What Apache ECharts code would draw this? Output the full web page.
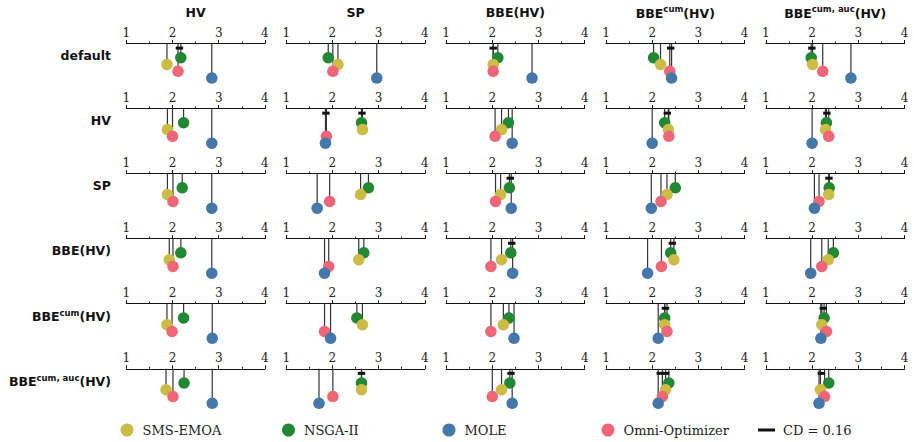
<!DOCTYPE html>
<html>
<head>
<meta charset="utf-8">
<script src="https://cdn.jsdelivr.net/npm/echarts@6/dist/echarts.min.js"></script>
<style>
  html, body { margin: 0; padding: 0; background: #ffffff; }
  #chart { width: 914px; height: 442px; }
</style>
</head>
<body>
<div id="chart"></div>
<script>
// Algorithms compared in every panel (index order used by all rank tables)
const algorithms = ['SMS-EMOA', 'NSGA-II', 'MOLE', 'Omni-Optimizer'];
const colours = ['#CCBB44', '#228833', '#4477AA', '#EE6677'];

// Column = indicator used for evaluation, row = indicator used for tuning
const columnTitles = ['HV', 'SP', 'BBE(HV)', 'BBE^{cum}(HV)', 'BBE^{cum, auc}(HV)'];
const rowTitles = ['default', 'HV', 'SP', 'BBE(HV)', 'BBE^{cum}(HV)', 'BBE^{cum, auc}(HV)'];

// Rank axis
const rankMin = 1;
const rankMax = 4;
const criticalDifference = 0.16;

// Average ranks, [row][column]
const smsEmoa = [
  [1.88, 2.12, 2.02, 2.18, 2.01],
  [1.89, 2.65, 2.20, 2.35, 2.29],
  [1.89, 2.61, 2.18, 2.32, 2.36],
  [1.93, 2.57, 2.20, 2.47, 2.35],
  [1.88, 2.65, 2.24, 2.27, 2.21],
  [1.86, 2.63, 2.20, 2.29, 2.18]
];
const nsga2 = [
  [2.18, 1.91, 2.12, 2.03, 1.98],
  [2.24, 2.63, 2.35, 2.27, 2.31],
  [2.21, 2.78, 2.37, 2.50, 2.37],
  [2.18, 2.68, 2.40, 2.40, 2.46],
  [2.24, 2.53, 2.36, 2.27, 2.26],
  [2.25, 2.63, 2.38, 2.36, 2.36]
];
const mole = [
  [2.85, 2.96, 2.86, 2.42, 2.84],
  [2.85, 1.85, 2.43, 2.00, 2.00],
  [2.85, 1.67, 2.41, 1.98, 2.05],
  [2.85, 1.83, 2.44, 1.90, 1.97],
  [2.86, 1.96, 2.47, 2.13, 2.19],
  [2.86, 1.71, 2.43, 2.13, 2.15]
];
const omniOptimizer = [
  [2.12, 2.01, 2.02, 2.38, 2.23],
  [2.00, 1.87, 2.06, 2.36, 2.36],
  [2.01, 1.94, 2.07, 2.19, 2.15],
  [2.01, 1.92, 1.97, 2.20, 2.21],
  [1.99, 1.83, 1.97, 2.32, 2.31],
  [2.01, 2.01, 2.00, 2.22, 2.27]
];

// Groups of algorithms without significant difference (indices into algorithms), [row][column]
const cdGroups = [
  [[[1, 3]], [], [[0, 3]], [[2, 3]], [[0, 1]]],
  [[], [[2, 3], [0, 1]], [], [[0, 1, 3]], [[0, 1, 3]]],
  [[], [], [[1, 2]], [], [[0, 1]]],
  [[], [], [[1, 2]], [[0, 1]], []],
  [[], [], [], [[0, 1, 3]], [[0, 1, 2, 3]]],
  [[], [[0, 1]], [[1, 2]], [[2, 3], [0, 1, 3]], [[0, 2, 3]]]
];

const ranks = [smsEmoa, nsga2, mole, omniOptimizer];

// ---- layout ----
const PANEL_LEFT = 126.3;
const PANEL_STEP_X = 159.9;
const PANEL_WIDTH = 138.6;
const AXIS_TOP = 43.5;
const PANEL_STEP_Y = 65.05;
const PANEL_HEIGHT = 40;                 // y axis runs 0..40 px below the rank axis
const DOT_OFFSET = [21.0, 14.2, 34.6, 27.8]; // drop depth per algorithm
const DRAW_ORDER = [1, 0, 3, 2];
const CD_BAR_Y = 4.6;

function richLabel(s) {
  // 'BBE^{cum}(HV)' -> rich text with a superscript token
  const m = s.match(/^(.*)\^\{(.*)\}(.*)$/);
  if (!m) return '{b|' + s + '}';
  return '{b|' + m[1] + '}{s|' + m[2] + '}{b|' + m[3] + '}';
}
const richStyles = {
  b: { fontFamily: 'DejaVu Sans', fontWeight: 'bold', fontSize: 12.5, fill: '#111', verticalAlign: 'bottom' },
  s: { fontFamily: 'DejaVu Sans', fontWeight: 'bold', fontSize: 8.5, fill: '#111', verticalAlign: 'bottom', padding: [0, 0, 6, 0] }
};

const grids = [], xAxes = [], yAxes = [], series = [], graphics = [];

for (let r = 0; r < rowTitles.length; r++) {
  const axisY = AXIS_TOP + PANEL_STEP_Y * r;
  graphics.push({
    type: 'text', x: 111, y: axisY + 12,
    style: { text: richLabel(rowTitles[r]), align: 'right', verticalAlign: 'middle', rich: richStyles }
  });
  for (let c = 0; c < columnTitles.length; c++) {
    const g = r * columnTitles.length + c;
    const left = PANEL_LEFT + PANEL_STEP_X * c;
    if (r === 0) {
      graphics.push({
        type: 'text', x: left + PANEL_WIDTH / 2, y: 12,
        style: { text: richLabel(columnTitles[c]), align: 'center', verticalAlign: 'middle', rich: richStyles }
      });
    }
    grids.push({ left: left, top: axisY, width: PANEL_WIDTH, height: PANEL_HEIGHT, containLabel: false });
    xAxes.push({
      gridIndex: g, type: 'value', position: 'top',
      min: rankMin, max: rankMax, interval: 1,
      axisLine: { show: true, onZero: false, lineStyle: { color: '#111', width: 1 } },
      axisTick: { show: true, length: 3.5, lineStyle: { color: '#111', width: 1 } },
      minorTick: { show: true, splitNumber: 2, length: 2, lineStyle: { color: '#111', width: 1 } },
      axisLabel: { fontFamily: 'DejaVu Serif', fontSize: 12, color: '#222', margin: 5 },
      splitLine: { show: false }
    });
    yAxes.push({ gridIndex: g, type: 'value', min: 0, max: PANEL_HEIGHT, inverse: true, show: false });

    // stems from the rank axis down to each marker
    series.push({
      type: 'custom', name: 'stems', xAxisIndex: g, yAxisIndex: g, silent: true, clip: false, z: 2,
      data: algorithms.map((_, a) => [ranks[a][r][c], DOT_OFFSET[a]]),
      renderItem: function (params, api) {
        const p0 = api.coord([api.value(0), 0]);
        const p1 = api.coord([api.value(0), api.value(1)]);
        return { type: 'line', shape: { x1: p0[0], y1: p0[1], x2: p1[0], y2: p1[1] },
                 style: { stroke: '#333', lineWidth: 1.2 } };
      }
    });

    // markers
    DRAW_ORDER.forEach(a => {
      series.push({
        type: 'scatter', name: algorithms[a], xAxisIndex: g, yAxisIndex: g, silent: true, z: 3,
        symbol: 'circle', symbolSize: 11.5,
        itemStyle: { color: colours[a], opacity: 1 },
        data: [[ranks[a][r][c], DOT_OFFSET[a]]]
      });
    });

    // critical-difference bars, one CD long, centred on each group
    const groups = cdGroups[r][c];
    series.push({
      type: 'custom', name: 'CD = 0.16', xAxisIndex: g, yAxisIndex: g, silent: true, clip: false, z: 4,
      itemStyle: { color: '#111' },
      data: groups.map(grp => [grp.reduce((s, a) => s + ranks[a][r][c], 0) / grp.length, CD_BAR_Y]),
      renderItem: function (params, api) {
        const centre = api.value(0);
        const p0 = api.coord([centre - criticalDifference / 2, api.value(1)]);
        const p1 = api.coord([centre + criticalDifference / 2, api.value(1)]);
        return { type: 'line', shape: { x1: p0[0], y1: p0[1], x2: p1[0], y2: p1[1] },
                 style: { stroke: '#111', lineWidth: 3 } };
      }
    });
  }
}

const legendText = { fontFamily: 'DejaVu Serif', fontSize: 13, color: '#222', padding: [0, 0, 0, 4] };
const legendLeft = [120.5, 282, 442.5, 601.5];
const legends = algorithms.map((name, a) => ({
  data: [name], left: legendLeft[a], top: 423.5, padding: 0,
  icon: 'circle', itemWidth: 13, itemHeight: 13, selectedMode: false, textStyle: legendText
}));
legends.push({
  data: [{ name: 'CD = 0.16', icon: 'rect' }], left: 758, top: 423.5, padding: 0,
  itemWidth: 17, itemHeight: 3, selectedMode: false,
  textStyle: { fontFamily: 'DejaVu Serif', fontSize: 13, color: '#222', padding: [0, 0, 0, 3] }
});

const chart = echarts.init(document.getElementById('chart'), null, { renderer: 'svg' });
chart.setOption({
  animation: false,
  backgroundColor: '#ffffff',
  grid: grids,
  xAxis: xAxes,
  yAxis: yAxes,
  series: series,
  legend: legends,
  graphic: graphics
});
</script>
</body>
</html>
